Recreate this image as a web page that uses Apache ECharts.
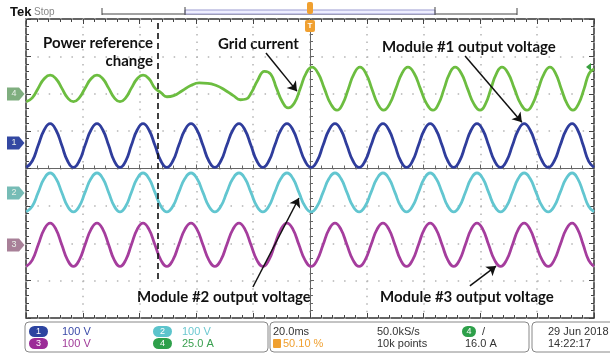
<!DOCTYPE html>
<html><head><meta charset="utf-8">
<script src="https://cdn.jsdelivr.net/npm/echarts@6/dist/echarts.min.js"></script>
<style>html,body{margin:0;padding:0;background:#fff}#c{width:610px;height:353px}</style>
</head><body><div id="c"></div>
<script>
// time in ms (20 ms/div), amplitude in screen divisions
const moduleTimes = [
  -99.9,-97.8,-95.7,-93.6,-91.5,-89.45,-87.4,-85.35,
  -83.3,-81.25,-79.2,-77.1,-75.0,-72.95,-70.9,-68.9,
  -66.9,-64.9,-62.9,-60.85,-58.8,-56.7,-54.6,-52.5,
  -50.4,-48.3,-46.2,-44.05,-41.9,-39.8,-37.7,-35.6,
  -33.5,-31.4,-29.3,-27.15,-25.0,-22.9,-20.8,-18.7,
  -16.6,-14.5,-12.4,-10.25,-8.1,-6.0,-3.9,-1.75,
  0.4,2.5,4.6,6.7,8.8,10.9,13.0,15.15,
  17.3,19.4,21.5,23.6,25.7,27.8,29.9,31.95,
  34.0,36.1,38.2,40.25,42.3,44.4,46.5,48.55,
  50.6,52.65,54.7,56.75,58.8,60.85,62.9,65.0,
  67.1,69.2,71.3,73.35,75.4,77.5,79.6,81.75,
  83.9,86.0,88.1,90.2,92.3,94.25,96.2,98.1,
  100.0];
const ch1Values = [
  0.03,0.20,0.62,1.03,1.20,1.03,0.62,0.20, 0.03,0.20,0.62,1.03,1.20,1.03,0.62,0.20,
  0.03,0.20,0.62,1.03,1.20,1.03,0.62,0.20, 0.03,0.20,0.62,1.03,1.20,1.03,0.62,0.20,
  0.03,0.20,0.62,1.03,1.20,1.03,0.62,0.20, 0.03,0.20,0.62,1.03,1.20,1.03,0.62,0.20,
  0.03,0.20,0.62,1.03,1.20,1.03,0.62,0.20, 0.03,0.20,0.62,1.03,1.20,1.03,0.62,0.20,
  0.03,0.20,0.62,1.03,1.20,1.03,0.62,0.20, 0.03,0.20,0.62,1.03,1.20,1.03,0.62,0.20,
  0.03,0.20,0.62,1.03,1.20,1.03,0.62,0.20, 0.03,0.20,0.62,1.03,1.20,1.03,0.62,0.20,
  0.03];
const ch2Values = [
  -1.16,-1.01,-0.64,-0.27,-0.12,-0.27,-0.64,-1.01, -1.16,-1.01,-0.64,-0.27,-0.12,-0.27,-0.64,-1.01,
  -1.16,-1.01,-0.64,-0.27,-0.12,-0.27,-0.64,-1.01, -1.16,-1.01,-0.64,-0.27,-0.12,-0.27,-0.64,-1.01,
  -1.16,-1.01,-0.64,-0.27,-0.12,-0.27,-0.64,-1.01, -1.16,-1.01,-0.64,-0.27,-0.12,-0.27,-0.64,-1.01,
  -1.16,-1.01,-0.64,-0.27,-0.12,-0.27,-0.64,-1.01, -1.16,-1.01,-0.64,-0.27,-0.12,-0.27,-0.64,-1.01,
  -1.16,-1.01,-0.64,-0.27,-0.12,-0.27,-0.64,-1.01, -1.16,-1.01,-0.64,-0.27,-0.12,-0.27,-0.64,-1.01,
  -1.16,-1.01,-0.64,-0.27,-0.12,-0.27,-0.64,-1.01, -1.16,-1.01,-0.64,-0.27,-0.12,-0.27,-0.64,-1.01,
  -1.16];
const ch3Values = [
  -2.62,-2.45,-2.04,-1.63,-1.46,-1.63,-2.04,-2.45, -2.62,-2.45,-2.04,-1.63,-1.46,-1.63,-2.04,-2.45,
  -2.62,-2.45,-2.04,-1.63,-1.46,-1.63,-2.04,-2.45, -2.62,-2.45,-2.04,-1.63,-1.46,-1.63,-2.04,-2.45,
  -2.62,-2.45,-2.04,-1.63,-1.46,-1.63,-2.04,-2.45, -2.62,-2.45,-2.04,-1.63,-1.46,-1.63,-2.04,-2.45,
  -2.62,-2.45,-2.04,-1.63,-1.46,-1.63,-2.04,-2.45, -2.62,-2.45,-2.04,-1.63,-1.46,-1.63,-2.04,-2.45,
  -2.62,-2.45,-2.04,-1.63,-1.46,-1.63,-2.04,-2.45, -2.62,-2.45,-2.04,-1.63,-1.46,-1.63,-2.04,-2.45,
  -2.62,-2.45,-2.04,-1.63,-1.46,-1.63,-2.04,-2.45, -2.62,-2.45,-2.04,-1.63,-1.46,-1.63,-2.04,-2.45,
  -2.62];
const gridTimes = [
  -99.9,-97.8,-95.7,-93.6,-91.5,-89.45,-87.4,-85.35,
  -83.3,-81.25,-79.2,-77.1,-75.0,-72.95,-70.9,-68.9,
  -66.9,-64.9,-62.9,-60.85,-58.8,-56.7,-54.6,
  -52.5,-50.4,-48.0,-45.0,-42.0,-39.0,-36.0,-33.0,-30.0,-27.0,-24.5,
  -22.5,-20.5,-18.5,-16.0,-13.8,-11.8,-9.7,-7.7,-5.5,-3.4,-1.3,
  0.7,2.9,5.1,7.3,9.5,11.5,13.5,15.55,
  17.6,19.7,21.8,23.85,25.9,28.05,30.2,32.35,
  34.5,36.7,38.9,41.1,43.3,45.25,47.2,49.15,
  51.1,53.3,55.5,57.7,59.9,61.8,63.7,65.65,
  67.6,69.8,72.0,74.2,76.4,78.4,80.4,82.45,
  84.5,86.5,88.5,90.55,92.6,94.55,96.5,98.25,
  100.0];
const gridValues = [
  1.79,1.89,2.15,2.40,2.50,2.40,2.15,1.89,
  1.79,1.89,2.15,2.40,2.50,2.40,2.15,1.89,
  1.79,1.89,2.15,2.40,2.50,2.40,2.15,
  2.03,1.92,1.95,2.08,2.22,2.29,2.28,2.22,2.10,1.95,1.84,
  1.86,2.05,2.35,2.60,2.52,2.15,1.78,1.62,1.75,2.15,2.56,
  2.71,2.54,2.13,1.73,1.56,1.73,2.13,2.54,
  2.71,2.54,2.13,1.73,1.56,1.73,2.13,2.54,
  2.71,2.54,2.13,1.73,1.56,1.73,2.13,2.54,
  2.71,2.54,2.13,1.73,1.56,1.73,2.13,2.54,
  2.71,2.54,2.13,1.73,1.56,1.73,2.13,2.54,
  2.71,2.54,2.13,1.73,1.56,1.73,2.13,2.54,
  2.66];
const changeTime = -53.5;
const annotations = ['Power reference', 'change', 'Grid current', 'Module #1 output voltage', 'Module #2 output voltage', 'Module #3 output voltage'];
const chanLabels = ['1', '2', '3', '4'];
const scaleTexts = ['100 V', '100 V', '100 V', '25.0 A'];
const timebaseText = '20.0ms', triggerPosText = '50.10 %', sampleRateText = '50.0kS/s', recordText = '10k points', trigLevelText = '16.0 A', dateText = '29 Jun 2018', timeText = '14:22:17';

const C_GREEN = '#6cbd40', C_BLUE = '#2f3d9c', C_CYAN = '#62c6d0', C_MAG = '#a53d9d';
const pair = (ts, vs) => ts.map((t, i) => [t, vs[i]]);

const chart = echarts.init(document.getElementById('c'), null, {renderer: 'canvas'});
const tickAxisX = (pos) => ({type: 'value', min: -100, max: 100, interval: 20, position: pos, axisLine: {show: false, onZero: false},
  axisTick: {show: true, inside: true, length: 5, lineStyle: {color: '#444'}}, minorTick: {show: true, splitNumber: 5, length: 3, lineStyle: {color: '#444'}},
  axisLabel: {show: false}, splitLine: {show: false}});
const tickAxisY = (pos) => ({type: 'value', min: -4, max: 4, interval: 1, position: pos, axisLine: {show: false, onZero: false},
  axisTick: {show: true, inside: true, length: 5, lineStyle: {color: '#444'}}, minorTick: {show: true, splitNumber: 5, length: 3, lineStyle: {color: '#444'}},
  axisLabel: {show: false}, splitLine: {show: false}});

const pill = (x, y, w, color, label) => ({type: 'group', children: [
  {type: 'rect', shape: {x: x, y: y - 5.5, width: w, height: 11, r: 5.5}, style: {fill: color}},
  {type: 'text', x: x + w / 2, y: y, style: {text: label, fill: '#fff', font: '9px "Liberation Sans"', align: 'center', verticalAlign: 'middle'}}
]});
const tag = (y, color, label) => ({type: 'group', children: [
  {type: 'polygon', shape: {points: [[7, y - 6.5], [19, y - 6.5], [24.5, y], [19, y + 6.5], [7, y + 6.5]]}, style: {fill: color}},
  {type: 'text', x: 14, y: y, style: {text: label, fill: '#e8f0e8', font: '9px "Liberation Sans"', align: 'center', verticalAlign: 'middle'}}
]});
const stxt = (x, y, text, color, align) => ({type: 'text', x: x, y: y, style: {text: text, fill: color, font: '11px "Liberation Sans"', align: align || 'left', verticalAlign: 'middle'}});
const ann = (x, y, text, align) => ({type: 'text', x: x, y: y, style: {text: text, fill: '#111', font: 'bold 15px Lato', align: align || 'left', verticalAlign: 'middle'}});

const option = {
  animation: false,
  backgroundColor: '#fff',
  grid: {left: 26, top: 19, width: 568, height: 299, show: true, borderColor: '#333', borderWidth: 1.5, backgroundColor: '#fff'},
  xAxis: [
    {type: 'value', min: -100, max: 100, interval: 20, position: 'bottom',
      axisLine: {show: true, onZero: true, lineStyle: {color: '#666', width: 1}},
      axisTick: {show: true, inside: true, length: 4, lineStyle: {color: '#666'}}, minorTick: {show: true, splitNumber: 5, length: 3, lineStyle: {color: '#666'}},
      axisLabel: {show: false},
      splitLine: {show: true, lineStyle: {color: '#b4b4b4', width: 1.5, type: [1.5, 5.98]}}},
    tickAxisX('top'), tickAxisX('bottom')
  ],
  yAxis: [
    {type: 'value', min: -4, max: 4, interval: 1, position: 'left',
      axisLine: {show: true, onZero: true, lineStyle: {color: '#666', width: 1}},
      axisTick: {show: true, inside: true, length: 4, lineStyle: {color: '#666'}}, minorTick: {show: true, splitNumber: 5, length: 3, lineStyle: {color: '#666'}},
      axisLabel: {show: false},
      splitLine: {show: true, lineStyle: {color: '#b4b4b4', width: 1.5, type: [1.5, 9.86]}}},
    tickAxisY('right'), tickAxisY('left')
  ],
  series: [
    {type: 'line', name: 'CH4', data: pair(gridTimes, gridValues), smooth: 0.5, showSymbol: false, lineStyle: {color: C_GREEN, width: 2.8}, z: 3,
      markLine: {silent: true, symbol: ['none', 'arrow'], symbolSize: 9, label: {show: false}, lineStyle: {color: '#111', width: 1.5, type: 'solid'},
        data: [
          [{coord: [-15.5, 3.09]}, {coord: [-4.6, 2.07]}],
          [{coord: [54.6, 3.01]}, {coord: [74.6, 1.24]}],
          [{coord: [-20.1, -3.17]}, {coord: [-3.9, -0.79]}],
          [{coord: [56.3, -3.14]}, {coord: [65.5, -2.61]}]
        ]}},
    {type: 'line', name: 'CH1', data: pair(moduleTimes, ch1Values), smooth: 0.5, showSymbol: false, lineStyle: {color: C_BLUE, width: 2.8}, z: 3,
      markLine: {silent: true, symbol: ['none', 'none'], label: {show: false}, lineStyle: {color: '#111', width: 1.6, type: [6, 4]},
        data: [[{coord: [changeTime, 3.89]}, {coord: [changeTime, -3.03]}]]}},
    {type: 'line', name: 'CH2', data: pair(moduleTimes, ch2Values), smooth: 0.5, showSymbol: false, lineStyle: {color: C_CYAN, width: 2.8}, z: 3},
    {type: 'line', name: 'CH3', data: pair(moduleTimes, ch3Values), smooth: 0.5, showSymbol: false, lineStyle: {color: C_MAG, width: 2.8}, z: 3}
  ],
  graphic: [
    {type: 'text', x: 10, y: 12, style: {text: 'Tek', fill: '#111', font: 'bold 13px "Liberation Sans"', verticalAlign: 'middle'}},
    {type: 'text', x: 34, y: 12, style: {text: 'Stop', fill: '#888', font: '10px "Liberation Sans"', verticalAlign: 'middle'}},
    {type: 'line', shape: {x1: 102, y1: 14, x2: 517, y2: 14}, style: {stroke: '#444', lineWidth: 1}},
    {type: 'rect', shape: {x: 185, y: 10, width: 250, height: 4}, style: {fill: '#eef', stroke: '#9a9ad0', lineWidth: 1}},
    {type: 'line', shape: {x1: 102, y1: 8, x2: 102, y2: 15}, style: {stroke: '#444', lineWidth: 1}},
    {type: 'line', shape: {x1: 185, y1: 7, x2: 185, y2: 15}, style: {stroke: '#444', lineWidth: 1}},
    {type: 'line', shape: {x1: 435, y1: 7, x2: 435, y2: 15}, style: {stroke: '#444', lineWidth: 1}},
    {type: 'line', shape: {x1: 517, y1: 8, x2: 517, y2: 15}, style: {stroke: '#444', lineWidth: 1}},
    {type: 'rect', shape: {x: 307, y: 2, width: 6, height: 12, r: 2}, style: {fill: '#f0a030'}},
    {type: 'rect', shape: {x: 305, y: 20, width: 10, height: 12, r: 2}, style: {fill: '#f0a030'}, z: 10},
    {type: 'text', x: 310, y: 26, z: 11, style: {text: 'T', fill: '#fff', font: 'bold 8px "Liberation Sans"', align: 'center', verticalAlign: 'middle'}},
    {type: 'polygon', shape: {points: [[586, 67], [591, 63], [591, 71]]}, style: {fill: '#3aa040'}},
    tag(94, '#7fae7f', chanLabels[3]), tag(143, '#3348a2', chanLabels[0]), tag(193, '#76bcb6', chanLabels[1]), tag(245, '#a88098', chanLabels[2]),
    ann(153, 43, annotations[0], 'right'), ann(153, 61, annotations[1], 'right'), ann(218, 44, annotations[2]),
    ann(382, 47, annotations[3]), ann(137, 297, annotations[4]), ann(380, 297, annotations[5]),
    {type: 'rect', shape: {x: 25, y: 322, width: 243, height: 30, r: 4}, style: {fill: '#fff', stroke: '#888', lineWidth: 1}},
    {type: 'rect', shape: {x: 270, y: 322, width: 259, height: 30, r: 4}, style: {fill: '#fff', stroke: '#888', lineWidth: 1}},
    {type: 'rect', shape: {x: 532, y: 322, width: 90, height: 30, r: 4}, style: {fill: '#fff', stroke: '#888', lineWidth: 1}},
    pill(29, 331.5, 19, '#2c44a0', chanLabels[0]), stxt(62, 331.5, scaleTexts[0], '#3a4aa8'),
    pill(29, 343.5, 19, '#9c2c98', chanLabels[2]), stxt(62, 343.5, scaleTexts[2], '#a03a98'),
    pill(153, 331.5, 19, '#5cc4cc', chanLabels[1]), stxt(182, 331.5, scaleTexts[1], '#6cc8d0'),
    pill(153, 343.5, 19, '#2ea04a', chanLabels[3]), stxt(182, 343.5, scaleTexts[3], '#3aa050'),
    stxt(273, 331.5, timebaseText, '#333'),
    {type: 'rect', shape: {x: 273, y: 339, width: 8, height: 9, r: 1}, style: {fill: '#f0a030'}},
    stxt(283, 343.5, triggerPosText, '#f0a030'),
    stxt(377, 331.5, sampleRateText, '#333'), stxt(377, 343.5, recordText, '#333'),
    pill(462, 331.5, 14, '#2ea04a', chanLabels[3]), stxt(482, 331.5, '/', '#333'),
    stxt(465, 343.5, trigLevelText, '#333'),
    stxt(548, 331.5, dateText, '#333'), stxt(548, 343.5, timeText, '#333')
  ]
};
chart.setOption(option);
</script></body></html>
